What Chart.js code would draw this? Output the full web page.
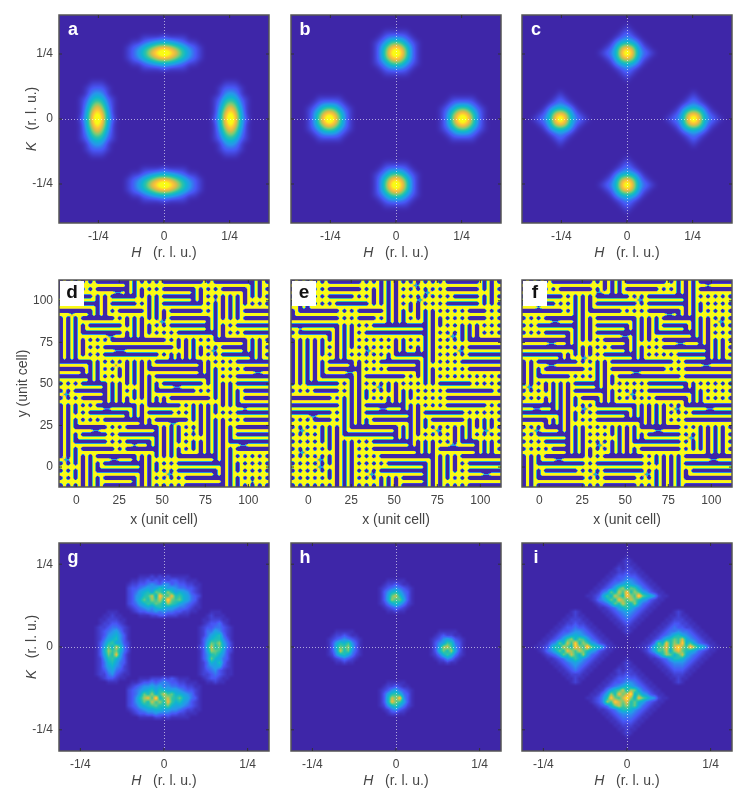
<!DOCTYPE html>
<html>
<head>
<meta charset="utf-8">
<script src="https://cdn.jsdelivr.net/npm/chart.js@4"></script>
<style>
body { margin: 0; background: #fff; }
canvas { position: absolute; }
</style>
</head>
<body>
<script>
const hTicks = [-0.25, 0, 0.25];
const hLabels = ['-1/4', '0', '1/4'];
const cellTicks = [0, 25, 50, 75, 100];
const cellLabels = ['0', '25', '50', '75', '100'];
const letters = ['a', 'b', 'c', 'd', 'e', 'f', 'g', 'h', 'i'];

// Values, top row first, one hex level per cell. Blanks are only for reading,
// rows stop at their last non zero cell.
const panelA = ['', '', '', '',
  '0000000000 000000 111121111',
  '0000000000 0000 1123455543211',
  '0000000000 000 123579bcb975321',
  '0000000000 000 12469cefec96421',
  '0000000000 000 123579bcb975321',
  '0000000000 0000 1123455543211',
  '0000000000 000000 111121111',
  '', '',
  '0000 0011100 0000000000 000000000 0011100',
  '0000 0122210 0000000000 000000000 0122210',
  '0000 0134310 0000000000 000000000 0134310',
  '0000 1256521 0000000000 000000000 1256521',
  '0000 1379731 0000000000 000000000 1379731',
  '0000 149c941 0000000000 000000000 149c941',
  '0000 15beb51 0000000000 000000000 15beb51',
  '0000 25cfc52 0000000000 000000000 25cfc52',
  '0000 15beb51 0000000000 000000000 15beb51',
  '0000 149c941 0000000000 000000000 149c941',
  '0000 1379731 0000000000 000000000 1379731',
  '0000 1256521 0000000000 000000000 1256521',
  '0000 0134310 0000000000 000000000 0134310',
  '0000 0122210 0000000000 000000000 0122210',
  '0000 0011100 0000000000 000000000 0011100',
  '', '',
  '0000000000 000000 111121111',
  '0000000000 0000 1123455543211',
  '0000000000 000 123579bcb975321',
  '0000000000 000 12469cefec96421',
  '0000000000 000 123579bcb975321',
  '0000000000 0000 1123455543211',
  '0000000000 000000 111121111',
  '', '', '', ''];

const panelB = ['', '', '',
  '0000000000 000000 001111100',
  '0000000000 000000 012333210',
  '0000000000 000000 124787421',
  '0000000000 000000 137bdb731',
  '0000000000 000000 138dfd831',
  '0000000000 000000 137bdb731',
  '0000000000 000000 124787421',
  '0000000000 000000 012333210',
  '0000000000 000000 001111100',
  '', '', '', '',
  '000 001111100 0000000000 0000000 001111100',
  '000 012333210 0000000000 0000000 012333210',
  '000 124787421 0000000000 0000000 124787421',
  '000 137bdb731 0000000000 0000000 137bdb731',
  '000 138dfd831 0000000000 0000000 138dfd831',
  '000 137bdb731 0000000000 0000000 137bdb731',
  '000 124787421 0000000000 0000000 124787421',
  '000 012333210 0000000000 0000000 012333210',
  '000 001111100 0000000000 0000000 001111100',
  '', '', '', '',
  '0000000000 000000 001111100',
  '0000000000 000000 012333210',
  '0000000000 000000 124787421',
  '0000000000 000000 137bdb731',
  '0000000000 000000 138dfd831',
  '0000000000 000000 137bdb731',
  '0000000000 000000 124787421',
  '0000000000 000000 012333210',
  '0000000000 000000 001111100',
  '', '', ''];

const panelC = ['', '',
  '0000000000 00000 00000100000',
  '0000000000 00000 00001210000',
  '0000000000 00000 00012321000',
  '0000000000 00000 00135653100',
  '0000000000 00000 0125aca5210',
  '0000000000 00000 1236cfc6321',
  '0000000000 00000 0125aca5210',
  '0000000000 00000 00135653100',
  '0000000000 00000 00012321000',
  '0000000000 00000 00001210000',
  '0000000000 00000 00000100000',
  '', '',
  '00 00000100000 0000000000 00000 00000100000',
  '00 00001210000 0000000000 00000 00001210000',
  '00 00012321000 0000000000 00000 00012321000',
  '00 00135653100 0000000000 00000 00135653100',
  '00 0125aca5210 0000000000 00000 0125aca5210',
  '00 1236cfc6321 0000000000 00000 1236cfc6321',
  '00 0125aca5210 0000000000 00000 0125aca5210',
  '00 00135653100 0000000000 00000 00135653100',
  '00 00012321000 0000000000 00000 00012321000',
  '00 00001210000 0000000000 00000 00001210000',
  '00 00000100000 0000000000 00000 00000100000',
  '', '',
  '0000000000 00000 00000100000',
  '0000000000 00000 00001210000',
  '0000000000 00000 00012321000',
  '0000000000 00000 00135653100',
  '0000000000 00000 0125aca5210',
  '0000000000 00000 1236cfc6321',
  '0000000000 00000 0125aca5210',
  '0000000000 00000 00135653100',
  '0000000000 00000 00012321000',
  '0000000000 00000 00001210000',
  '0000000000 00000 00000100000',
  '', ''];

// Real space patterns: 0 blue, 9 yellow, 5 the greenish walls between domains
const panelD = [
  '090909 0909 00000000 0909 090909 0000000000 0909 0000000000 0909 0',
  '090909 9999 99999999 0909 999999 9999999999 9999 9999999999 0909 9',
  '0909 090909 00000000 090909 0909 00000000 0909 0909 000000 090909 0',
  '0909 999999 99999559 090909 9999 99999999 0909 9999 999999 090909 9',
  '00000000 09 0909 000000 0909 0909 00000000 0909 0909 09090909 0909 0',
  '99999999 99 0909 999999 9999 0909 99999999 0909 9959 09090909 9999 9',
  '0000000000 0909 000000 0909 0909 0000000000 0909 09090909 090909 0',
  '9999999999 0909 999999 9999 0909 9999999999 9999 09090909 999999 9',
  '00000000 090909 09 000000 09 090909 00000000 0909 09090909 000000 0',
  '99959999 090909 99 999999 99 090909 99999999 9999 09090909 999999 9',
  '090909 00000000 0909 090909 090909 0000000000 0909 090909 000000 0',
  '090909 99999999 9999 090909 999559 9999999999 0909 999999 999999 9',
  '09090909 00000000 0909 090909 0909 0000000000 090909 09 00000000 0',
  '09090909 99999999 9999 090909 9999 9999999999 090909 99 99999999 9',
  '090909 0000000000 09 090909 09090909 0000000000 0909 0909 000000 0',
  '090909 9999999559 99 090909 99999999 9999999999 0909 9999 999999 9',
  '09090909 090909 00000000000000 0909 090909 0909 00000000 090909 0',
  '09090909 999999 99999999999999 9999 090909 9999 99999999 090909 9',
  '09090909 0909 000000000000000000 0909 090909 0909 000000 090909 0',
  '09090909 9999 999555999999999999 9999 090909 9559 999999 090909 9',
  '090909 090909 00000000000000 0909 09090909 090909 00000000 0909 0',
  '090909 999999 99999999999999 9999 09090909 999999 99999999 0909 9',
  '00000000 0909 090909 09090909 000000000000 0909 090909 00000000 0',
  '99999999 0909 999599 09090909 999999999999 0909 999999 99999999 9',
  '000000 090909 0909 09090909 00000000000000 090909 090909 000000 0',
  '999999 090909 9999 09090909 99999999999999 090909 999999 999559 9',
  '00000000 0909 090909 09090909 00000000000000 0909 0909 00000000 0',
  '99999999 0909 999999 09090909 99999999999999 0909 9999 99999999 9',
  '090909 000000 090909 0909 090909 0000000000 0909 090909 00000000 0',
  '999999 999999 090909 9999 090909 9995599999 9999 090909 99999999 9',
  '0909 00000000 090909 09 090909 0000000000 090909 09090909 000000 0',
  '9559 99999999 090909 99 090909 9999999999 999999 09090909 999999 9',
  '090909 000000 09090909 0909 090909 0000000000 0909 090909 000000 0',
  '999999 999999 09090909 9999 090909 9999999999 9999 090909 999999 9',
  '090909 0909 0000000000 0909 00000000 0909 09090909 0909 00000000 0',
  '090909 9999 9955999999 0909 99999999 9999 09090909 9999 99599999 9',
  '0909 0909 0000000000 090909 000000 090909 090909 090909 00000000 0',
  '0909 9999 9999999999 090909 999999 999999 090909 999999 99999999 9',
  '090909 090909 0000000000 0909 00000000 0909 09090909 0909 000000 0',
  '090909 999999 9999999999 0909 99995599 9999 09090909 9999 999999 9',
  '0909 00000000 090909 00000000 09090909 0909 0909090909 00000000 0',
  '0909 99999559 999999 99999999 09090909 9959 0909090909 99999999 9',
  '090909 000000 0909 0000000000 09090909 090909 09090909 00000000 0',
  '090909 999999 9999 9999999999 09090909 999999 09090909 99999999 9',
  '0909 00000000 090909 000000 09090909 0909 0909090909 0000000000 0',
  '0909 99999999 999999 995999 09090909 9999 0909090909 9995599999 9',
  '090909 00000000 0909 00000000 09090909 0909 0909090909 00000000 0',
  '090909 99999999 9999 99999999 09090909 9999 0909090909 99999999 9',
  '0909 090909 0000000000 090909 090909 0000000000 090909 09090909 0',
  '9559 090909 9999559999 090909 999999 9999999999 090909 99999999 9',
  '090909 090909 0000000000 090909 0909 000000000000 090909 090909 0',
  '999999 090909 9999999999 090909 9999 999999999999 090909 999999 9',
  '0909 090909 000000000000 0909 090909 0000000000 090909 09090909 0',
  '9999 090909 999999999999 0909 999559 9999999999 090909 99999999 9',
  '090909 090909 00000000 090909 09090909 0000000000 090909 090909 0',
  '999999 090909 99999999 090909 99999999 9999999999 090909 99599999 9',
  '090909 090909 00000000 090909 09090909 0000000000 090909 090909 0'];

const panelE = [
  '0909090909 00000000 090909 090909 090909090909 00000000 09 0909 0',
  '9999999999 99999999 999999 090909 999559999999 99999999 99 0909 9',
  '0909090909 00000000 0909 09090909 090909090909 00000000 0909 09 0',
  '9999999999 99999999 9999 09090909 999999559999 99999999 9999 09 9',
  '0909090909 000000 090909 09090909 09090909090909 000000 09 0909 0',
  '9999999999 999999 999999 09090909 99995599999999 999999 99 0909 9',
  '09 0909 090909 00000000 090909 0909 09 0909 090909 00000000 090909 0',
  '99 0909 999999 99999999 999999 0909 99 0909 999999 99999999 999999 9',
  '09 0000000000 090909 000000 09 090909 09 090909 09090909 0000 0909 0',
  '09 9999999999 999999 999999 99 090909 99 090909 99999999 9999 9999 9',
  '000000000000 090909 0000 0909 090909 0909 090909 090909 0000 0909 0',
  '999999999999 999999 9999 9999 090909 9999 090909 999999 9999 9999 9',
  '000000000000 090909 0909 00000000000000 0909 090909 090909 0909 0',
  '995999999999 090909 9999 99999999999999 0909 999999 090909 9999 9',
  '09 00000000 09090909 09 0000000000000000 0909 090909 090909 0909 0',
  '99 99999999 09090909 99 9999999999999999 0909 999559 090909 9999 9',
  '0909090909 09 090909 0909090909 0909 0909 0909 09090909 00000000 0',
  '0909090909 99 090909 9999999999 0909 9999 0909 99999999 99999999 9',
  '0909090909 09 0909 090909090909 0909 09 090909 09090909 00000000 0',
  '0909090909 99 0909 999955999999 0909 99 090909 99999559 99999999 9',
  '09090909 0909 0909 0909090909 09 00000000 0909 09090909 00000000 0',
  '09090909 9999 0909 9999999999 09 99999999 0909 99999999 99999999 9',
  '0909090909 000000 0909 0909 0000000000 0909 09090909 0000000000 0',
  '0909090909 999999 0909 9999 9999999999 0909 99999999 9999999999 9',
  '0909090909 00000000 09 090909 00000000 090909 09090909 00000000 0',
  '0909090909 99999559 09 999999 99999999 090909 99999999 99999999 9',
  '09090909 00000000 0909 0000000000 090909 0909 0909090909 090909 0',
  '09090909 99999999 0909 9999999999 999999 0909 9999999999 999999 9',
  '0909 00000000 0909 0909 090909 0909 0909090909 00000000 09090909 0',
  '9999 99999999 9999 0909 999559 0909 9999999999 99999999 99999999 9',
  '090909 000000 0909 090909 090909 090909 09090909 000000000000 09 0',
  '999999 999999 9999 090909 999999 090909 99999999 999999999999 99 9',
  '0000000000 0909 090909 090909 090909 0909090909 00000000000000 0',
  '9999999999 9999 090909 999999 090909 9999999999 99999999999999 9',
  '000000000000 09 090909 0000000000 090909 090909 0000000000 0909 0',
  '999999999999 99 090909 9999559999 090909 999999 9999999999 9999 9',
  '0000000000 0909 090909 000000000000 0909 0000000000 0909090909 0',
  '9999955999 9999 090909 999999999999 0909 9999999999 9999999999 9',
  '090909 0000 0909 09090909 0000000000 090909 00000000 09 09090909 0',
  '999999 9999 9999 09090909 9999999999 090909 99999999 99 09090909 9',
  '09090909 09090909 000000000000 09090909 09090909 090909 090909 0',
  '99559999 09090909 999999999999 09090909 99955999 090909 995599 9',
  '09090909 090909 00000000000000 090909 0909090909 090909 090909 0',
  '99999999 090909 99999999999999 090909 9999999999 090909 999999 9',
  '0909090909 09090909 0909 0000000000 09090909 090909 0000 090909 0',
  '9999999999 09090909 9999 9999999999 09090909 999559 9999 090909 9',
  '090909090909 090909 0909 000000000000 090909 0000000000 090909 0',
  '995599999999 090909 9999 999999999999 090909 9999999999 090909 9',
  '0909090909 09090909 090909 00000000000000 09090909 0000000000 0',
  '9999999559 09090909 999999 99999999999999 09090909 9999999999 9',
  '090909090909 090909 09090909 0000000000 0909090909 09 00000000 0',
  '999999955999 090909 99999999 9999999999 0909090909 99 99999999 9',
  '0909090909 09090909 090909 000000000000 09090909 0909 00000000 0',
  '9999999999 09090909 999559 999999999999 09090909 9999 99995599 9',
  '090909090909 090909 090909 090909 000000 090909 090909 00000000 0',
  '999999999999 090909 999999 090909 999999 090909 999999 99999999 9',
  '090909090909 090909 090909 090909 000000 090909 090909 00000000 0'];

const panelF = [
  '09090909 0000000000 0909 090909 0000000000 0909 090909 00000000 0',
  '99999999 9999999999 9999 090909 9999999999 9999 090909 99599999 9',
  '0909090909 00000000 090909 0909 00000000 090909 090909 00000000 0',
  '9999999999 99999999 995599 0909 99999999 999999 090909 99999999 9',
  '0000000000 0909 090909 00000000 090909 0000000000 0909 09090909 0',
  '9999999999 9999 090909 99999999 999559 9999999999 0909 99999999 9',
  '00000000 090909 090909 0000000000 0909 0000000000 090909 090909 0',
  '99995999 999999 090909 9999999999 9999 9999999999 090909 999999 9',
  '0000000000 0909 0909 00000000 09090909 00000000 090909 09090909 0',
  '9999999999 9999 0909 99999999 99999999 99999559 090909 99999999 9',
  '090909 00000000 090909 0000000000 09090909 00000000 090909 0909 0',
  '999999 99559999 090909 9999999999 09090909 99999999 090909 9559 9',
  '0909 0000000000 090909 00000000 0909090909 000000 09090909 0909 0',
  '9999 9999999999 090909 99999999 0909090909 999999 09090909 9999 9',
  '090909 000000 09090909 0000000000 090909 0000000000 090909 0909 0',
  '999999 999999 09090909 9999999559 090909 9999999999 090909 9999 9',
  '000000000000 0909 090909 000000 0909 090909 0000000000 09090909 0',
  '999999955999 0909 999999 999999 0909 999999 9999559999 09090909 9',
  '00000000000000 090909 0909 0000 090909 0909 000000000000 090909 0',
  '99999999999999 090909 9999 9999 090909 9999 999999999999 090909 9',
  '0000000000 0909 09090909 00000000 0909 09090909 00000000 090909 0',
  '9999999999 0909 99559999 99999999 0909 99999999 99999999 090909 9',
  '0909 0000000000 090909 0909 0000000000000000 0909 000000000000 0',
  '0909 9995599999 999999 0909 9999999999999999 9999 999995599999 9',
  '090909 0000000000 0909 0909 00000000000000 090909 000000000000 0',
  '090909 9999999999 9999 0909 99999955999999 999999 999999999999 9',
  '0909 00000000 09090909 090909 0000000000000000 09 000000000000 0',
  '0909 99999999 99999999 090909 9999999999999999 99 999999999999 9',
  '090909 09090909 000000 0909 0909090909 0000000000 0909 09090909 0',
  '955999 09090909 999999 0909 9999999999 9999999999 0909 99999999 9',
  '09090909 090909 00000000 0909 09090909 000000000000 0909 090909 0',
  '99999999 090909 99999999 0909 99955999 999999999999 0909 999999 9',
  '090909 0909090909 0000 090909 0909090909 00000000 090909 090909 0',
  '999999 0909090909 9999 090909 9999999999 99999999 090909 999999 9',
  '00000000 090909 090909 0000000000 0909090909 0909 000000000000 0',
  '99955999 090909 995599 9999999999 0909090909 9559 999999559999 9',
  '0000000000 090909 0909 00000000 090909090909 090909 0000000000 0',
  '9999999999 090909 9999 99999999 090909090909 999999 9999999999 9',
  '000000 09090909 090909 000000000000 09090909 0909 000000000000 0',
  '999999 09090909 999999 999999999999 09090909 9999 999999999999 9',
  '090909 0000 09090909 090909 09090909 0000000000 090909 09090909 0',
  '999559 9999 09090909 999999 09090909 9999559999 999999 09090909 9',
  '0909 00000000 090909 09090909 09090909 00000000 090909 09090909 0',
  '9999 99999999 090909 99999999 09090909 99999999 999559 09090909 9',
  '090909 000000 090909 090909 090909 000000000000 0909 0909090909 0',
  '999999 999999 090909 995599 090909 999999999999 9999 0909090909 9',
  '09090909 0000 09090909 0909 09090909 0000000000 09090909 090909 0',
  '99999999 9999 09090909 9999 09090909 9999999999 99999999 090909 9',
  '090909 0000000000 090909 0000000000 0909 09090909 000000000000 0',
  '090909 9995599999 999999 9999999999 9999 09090909 999999955999 9',
  '0909 000000000000 0909 000000000000 090909 090909 000000000000 0',
  '0909 999999999999 9999 999999999999 999999 090909 999999999999 9',
  '090909 00000000 09090909 0000000000 0909 0909090909 0000000000 0',
  '090909 99999999 99999559 9999999999 9559 0909090909 9999999999 9',
  '0909 000000000000 090909 00000000 090909 09090909 000000000000 0',
  '0909 999999999999 999999 99999999 999999 09090909 999999999999 9',
  '0909 000000000000 090909 00000000 090909 09090909 000000000000 0'];

const panelG = ['', '', '', '', '', '', '', '',
  '0000000000 0000000000 1112121211111',
  '0000000000 00000000 11223232323322111',
  '0000000000 0000000 1223345435534332211',
  '0000000000 0000000 2334565687565443321',
  '0000000000 0000000 2346786a97b86765321',
  '0000000000 0000000 235689c7ea9d8976432',
  '0000000000 0000000 2357a8b9c8fa9a76431',
  '0000000000 0000000 2346798a97b98654321',
  '0000000000 0000000 1234565787665443211',
  '000000000 000111000 12334454544332211 000111000',
  '000000000 001121100 00 1112233222111 00 001211100',
  '000000000 011222110 0000000000 0000000 011222110',
  '000000000 012233210 0000000000 0000000 012334210',
  '000000000 122344321 0000000000 0000000 123344321',
  '000000000 123456421 0000000000 0000000 124465321',
  '000000000 123567531 0000000000 0000000 124678421',
  '000000000 124678531 0000000000 0000000 135788531',
  '000000000 135896632 0000000000 0000000 136a9b642',
  '000000000 136a7c842 0000000000 0000000 237c8a742',
  '000000000 137b9a742 0000000000 0000000 136ba9632',
  '000000000 136a8d631 0000000000 0000000 135897531',
  '000000000 125897531 0000000000 0000000 135a76431',
  '000000000 124786431 0000000000 0000000 124768421',
  '000000000 124675421 0000000000 0000000 124566321',
  '000000000 123564321 0000000000 0000000 123453211',
  '000000000 122453211 0000000000 0000000 122343211',
  '000000000 012332110 00 1112223232111 00 012332110',
  '000000000 000111000 11233434543322111 001121100',
  '0000000000 0000000 1234556564544332211',
  '0000000000 0000000 2345678687666543321',
  '0000000000 0000000 2346a8b79c9a7765421',
  '0000000000 0000000 2358bd9f7ac98a76431',
  '0000000000 0000000 2357a8c9b8d97865321',
  '0000000000 0000000 2346789a88a76654321',
  '0000000000 0000000 1234566776655432211',
  '0000000000 00000000 12334454443322111',
  '0000000000 0000000000 1111221211111',
  '', '', '', '', '', '', '', ''];

const panelH = ['', '', '', '', '', '', '', '', '',
  '0000000000 0000000000 00 001111100',
  '0000000000 0000000000 00 012232110',
  '0000000000 0000000000 00 123454321',
  '0000000000 0000000000 00 135786431',
  '0000000000 0000000000 00 136ac8531',
  '0000000000 0000000000 00 136b9a631',
  '0000000000 0000000000 00 124686421',
  '0000000000 0000000000 00 012343210',
  '0000000000 0000000000 00 001121100',
  '', '', '', '',
  '000000000 001111100 0000000000 0000000 001111100',
  '000000000 012232110 0000000000 0000000 012322110',
  '000000000 123454321 0000000000 0000000 123565321',
  '000000000 136879531 0000000000 0000000 135698431',
  '000000000 137a9b631 0000000000 0000000 136bc9531',
  '000000000 136c8a531 0000000000 0000000 137a8b631',
  '000000000 125786421 0000000000 0000000 124797421',
  '000000000 012343210 0000000000 0000000 012354210',
  '000000000 001121100 0000000000 0000000 001121100',
  '', '', '', '',
  '0000000000 0000000000 00 001111100',
  '0000000000 0000000000 00 012232110',
  '0000000000 0000000000 00 123564321',
  '0000000000 0000000000 00 136897431',
  '0000000000 0000000000 00 137cae531',
  '0000000000 0000000000 00 137da9631',
  '0000000000 0000000000 00 125796421',
  '0000000000 0000000000 00 012453210',
  '0000000000 0000000000 00 001221100',
  '', '', '', '', '', '', '', '', ''];

const panelI = ['', '', '',
  '0000000000 0000000000 000000 1',
  '0000000000 0000000000 00000 121',
  '0000000000 0000000000 0000 11211',
  '0000000000 0000000000 000 1212211',
  '0000000000 0000000000 00 112232211',
  '0000000000 0000000000 0 11233433211',
  '0000000000 0000000000 1123345543211',
  '0000000000 000000000 112345686543211',
  '0000000000 00000000 1123469b7a9643211',
  '0000000000 0000000 11245a7c9e8b9653211',
  '0000000000 000000 1123697ca8eb9fa875211',
  '0000000000 0000000 12457a8db9ca8653211',
  '0000000000 00000000 12346a8c97b643211',
  '0000000000 000000000 112346797543211',
  '0000000000 00 121 00000 1123456543211 00000 121',
  '0000000000 0 11211 00000 11234543211 00000 11211',
  '0000000000 1122211 00000 112343211 00000 1122211',
  '000000000 112232211 00000 1123211 00000 112332211',
  '00000000 11233433211 00000 11211 00000 11234332211',
  '0000000 1123345543211 00000 121 00000 1123445443211',
  '000000 112345676543211 00000 1 00000 112345786543211',
  '00000 1123469b7a9643211 000000000 1123578a9c7543211',
  '0000 11245a7c9e8b9653211 0000000 1124a7d8b9e79643211',
  '000 1123697ca8eb9fa875211 00000 112479ad8cfb9eb875211',
  '0000 12457a8db9ca8653211 0000000 1246a9c7bda87643211',
  '00000 12346a8c97b643211 000000000 12358ba79c7543211',
  '000000 112346797543211 00000 1 00000 112346887543211',
  '0000000 1123456543211 00000 121 00000 1123455543211',
  '00000000 11234543211 00000 11211 00000 11234443211',
  '000000000 112343211 00000 1212211 00000 112333211',
  '0000000000 1122211 00000 112232211 00000 1122211',
  '0000000000 0 11211 00000 11233433211 00000 11211',
  '0000000000 00 121 00000 1123345543211 00000 121',
  '0000000000 000000000 112345686543211',
  '0000000000 00000000 1124689c7ba643211',
  '0000000000 0000000 11246b8dacf79653211',
  '0000000000 000000 112358ea9cfb7da865211',
  '0000000000 0000000 1235b9ecad8a7643211',
  '0000000000 00000000 12347ac9b8a643211',
  '0000000000 000000000 112346887543211',
  '0000000000 0000000000 1123455543211',
  '0000000000 0000000000 0 11234443211',
  '0000000000 0000000000 00 112333211',
  '0000000000 0000000000 000 1122211',
  '0000000000 0000000000 0000 11211',
  '0000000000 0000000000 00000 121',
  '0000000000 0000000000 000000 1',
  '', '', ''];

const panelRows = [panelA, panelB, panelC, panelD, panelE, panelF, panelG, panelH, panelI];
const gridSizes = [41, 41, 41, 57, 57, 57, 53, 53, 53];

// Axis ranges per row of panels, colour limits like caxis in Matlab
const rowX = [[-0.4, 0.4], [-10, 112], [-0.314, 0.314]];
const rowY = [[-0.4, 0.4], [-12, 112.5], [-0.314, 0.314]];
const rowClim = [[0, 13], [4, 6.5], [0, 15]];
const rowGamma = [1.05, 1, 1.3];

const parula = [[62, 38, 168], [71, 86, 245], [39, 150, 235], [15, 180, 208], [45, 195, 165],
  [125, 203, 115], [210, 188, 75], [254, 195, 56], [249, 251, 21]];

const colLeft = [59, 291, 522];
const rowTop = [15, 280, 543];
const plotH = [208, 207, 208];
const inkColor = '#444';
const fontName = '"Liberation Sans", Arial, sans-serif';

function colour(t) {
    t = Math.max(0, Math.min(1, t)) * (parula.length - 1);
    const i = Math.min(parula.length - 2, Math.floor(t));
    const f = t - i;
    return parula[i].map((c, k) => c + (parula[i + 1][k] - c) * f);
}

function makePoints(rows, n, xr, yr) {
    const pts = [];
    rows.forEach((row, j) => {
        const s = row.replace(/ /g, '');
        for (let i = 0; i < n; i++) {
            pts.push({
                x: xr[0] + (i + 0.5) * (xr[1] - xr[0]) / n,
                y: yr[1] - (j + 0.5) * (yr[1] - yr[0]) / rows.length,
                v: parseInt(s[i] || '0', 16)
            });
        }
    });
    return pts;
}

// weights of the four neighbouring cells for one pixel, display shading only
function weights(f, soft) {
    if (!soft) return [0, 1 - f, f, 0];
    const f2 = f * f, f3 = f2 * f;
    return [(1 - f) * (1 - f) * (1 - f) / 6, (3 * f3 - 6 * f2 + 4) / 6, (-3 * f3 + 3 * f2 + 3 * f + 1) / 6, f3 / 6];
}

// Paints the cells through the two scales
const heatmap = {
    id: 'heatmap',
    beforeDatasetsDraw(chart, args, opts) {
        const pts = chart.data.datasets[0].data;
        const n = opts.n;
        const m = pts.length / n;
        const sx = chart.scales.x, sy = chart.scales.y;
        const x0 = sx.getPixelForValue(pts[0].x), dx = sx.getPixelForValue(pts[1].x) - x0;
        const y0 = sy.getPixelForValue(pts[0].y), dy = sy.getPixelForValue(pts[n].y) - y0;
        const a = chart.chartArea;
        const w = Math.round(a.right - a.left), h = Math.round(a.bottom - a.top);
        const img = chart.ctx.createImageData(w, h);
        const at = (j, i) => pts[Math.max(0, Math.min(m - 1, j)) * n + Math.max(0, Math.min(n - 1, i))].v;
        for (let py = 0; py < h; py++) {
            const v = (a.top + py + 0.5 - y0) / dy;
            const j = Math.floor(v);
            const wy = weights(v - j, opts.soft);
            for (let px = 0; px < w; px++) {
                const u = (a.left + px + 0.5 - x0) / dx;
                const i = Math.floor(u);
                const wx = weights(u - i, opts.soft);
                let val = 0;
                for (let q = 0; q < 4; q++) {
                    if (wy[q] === 0) continue;
                    for (let r = 0; r < 4; r++) {
                        if (wx[r] !== 0) val += wy[q] * wx[r] * at(j + q - 1, i + r - 1);
                    }
                }
                const t = Math.max(0, (val - opts.clim[0]) / (opts.clim[1] - opts.clim[0]));
                const c = colour(Math.pow(t, opts.gamma));
                const o = (py * w + px) * 4;
                img.data[o] = c[0]; img.data[o + 1] = c[1]; img.data[o + 2] = c[2]; img.data[o + 3] = 255;
            }
        }
        chart.ctx.putImageData(img, Math.round(a.left), Math.round(a.top));
    },
    afterDraw(chart, args, opts) {
        const ctx = chart.ctx, a = chart.chartArea;
        const sx = chart.scales.x, sy = chart.scales.y;
        ctx.save();
        // frame and small inward ticks on the four sides
        ctx.strokeStyle = '#555';
        ctx.lineWidth = 1.5;
        ctx.strokeRect(a.left, a.top, a.right - a.left, a.bottom - a.top);
        ctx.strokeStyle = '#333';
        ctx.lineWidth = 1;
        ctx.beginPath();
        sx.ticks.forEach(t => {
            const p = sx.getPixelForValue(t.value);
            ctx.moveTo(p, a.top); ctx.lineTo(p, a.top + 3);
            ctx.moveTo(p, a.bottom); ctx.lineTo(p, a.bottom - 3);
        });
        sy.ticks.forEach(t => {
            const p = sy.getPixelForValue(t.value);
            ctx.moveTo(a.left, p); ctx.lineTo(a.left + 3, p);
            ctx.moveTo(a.right, p); ctx.lineTo(a.right - 3, p);
        });
        ctx.stroke();

        // panel letter
        ctx.textAlign = 'center';
        ctx.textBaseline = 'middle';
        if (opts.boxed) {
            ctx.fillStyle = '#fff';
            ctx.fillRect(a.left + 1, a.top + 1, 24, 25);
            ctx.fillStyle = '#111';
            ctx.font = 'bold 19px ' + fontName;
            ctx.fillText(opts.letter, a.left + 13, a.top + 13);
        } else {
            ctx.fillStyle = '#fff';
            ctx.font = 'bold 18px ' + fontName;
            ctx.fillText(opts.letter, a.left + 14, a.top + 15);
        }

        // axis titles, the letter H or K is italic
        ctx.fillStyle = inkColor;
        const cx = (a.left + a.right) / 2, cy = (a.top + a.bottom) / 2;
        drawTitle(ctx, opts.xTitle, cx, a.bottom + opts.xTitleGap, 0);
        if (opts.yTitle) drawTitle(ctx, opts.yTitle, a.left - opts.yTitleGap, cy, -Math.PI / 2);
        ctx.restore();
    }
};

function drawTitle(ctx, parts, x, y, angle) {
    const plain = '14px ' + fontName, italic = 'italic 14px ' + fontName;
    let total = 0;
    parts.forEach(p => { ctx.font = p[1] ? italic : plain; total += ctx.measureText(p[0]).width; });
    ctx.save();
    ctx.translate(x, y);
    ctx.rotate(angle);
    ctx.textAlign = 'left';
    ctx.textBaseline = 'middle';
    let pos = -total / 2;
    parts.forEach(p => {
        ctx.font = p[1] ? italic : plain;
        ctx.fillText(p[0], pos, 0);
        pos += ctx.measureText(p[0]).width;
    });
    ctx.restore();
}

function axis(range, values, labels, showLabels, showZeroLine, fit) {
    return {
        type: 'linear',
        min: range[0],
        max: range[1],
        afterBuildTicks: s => { s.ticks = values.map(v => ({ value: v })); },
        afterFit: s => {
            fit(s);
            // no room kept for half a tick label, the plots must sit at fixed places
            s.paddingTop = s.paddingBottom = s.paddingLeft = s.paddingRight = 0;
        },
        border: { display: false, dash: [1, 2] },
        grid: {
            display: showZeroLine,
            z: 1,
            drawTicks: false,
            lineWidth: 1,
            color: c => (c.tick && c.tick.value === 0 ? 'rgba(255,255,255,0.6)' : 'rgba(0,0,0,0)')
        },
        ticks: {
            display: showLabels,
            autoSkip: false,
            maxRotation: 0,
            padding: 6,
            color: inkColor,
            font: { family: 'Liberation Sans', size: 12 },
            callback: (v, i) => labels[i]
        }
    };
}

letters.forEach((letter, p) => {
    const row = Math.floor(p / 3), col = p % 3;
    const left = col === 0 ? 59 : 12;
    const cv = document.createElement('canvas');
    cv.width = left + 210 + 4;
    cv.height = 5 + plotH[row] + 45;
    cv.style.left = (colLeft[col] - left) + 'px';
    cv.style.top = (rowTop[row] - 5) + 'px';
    document.body.appendChild(cv);

    const reciprocal = row !== 1;
    const xTitle = reciprocal ? [['H', true], ['   (r. l. u.)', false]] : [['x (unit cell)', false]];
    const yTitle = col !== 0 ? null : reciprocal ? [['K', true], ['   (r. l. u.)', false]] : [['y (unit cell)', false]];

    new Chart(cv, {
        type: 'scatter',
        plugins: [heatmap],
        data: {
            datasets: [{
                data: makePoints(panelRows[p], gridSizes[p], rowX[row], rowY[row]),
                pointRadius: 0,
                pointHoverRadius: 0
            }]
        },
        options: {
            responsive: false,
            animation: false,
            devicePixelRatio: 1,
            events: [],
            layout: { padding: { top: 5, right: 4 } },
            plugins: {
                legend: { display: false },
                tooltip: { enabled: false },
                heatmap: {
                    n: gridSizes[p],
                    clim: rowClim[row],
                    gamma: rowGamma[row],
                    soft: row === 0,
                    letter: letter,
                    boxed: row === 1,
                    xTitle: xTitle,
                    yTitle: yTitle,
                    xTitleGap: row === 1 ? 33 : 30,
                    yTitleGap: row === 1 ? 36 : 27
                }
            },
            scales: {
                x: axis(rowX[row], reciprocal ? hTicks : cellTicks, reciprocal ? hLabels : cellLabels, true, reciprocal,
                    s => { s.height = 45; }),
                y: axis(rowY[row], reciprocal ? hTicks : cellTicks, reciprocal ? hLabels : cellLabels, col === 0, reciprocal,
                    s => { s.width = left; })
            }
        }
    });
});
</script>
</body>
</html>
